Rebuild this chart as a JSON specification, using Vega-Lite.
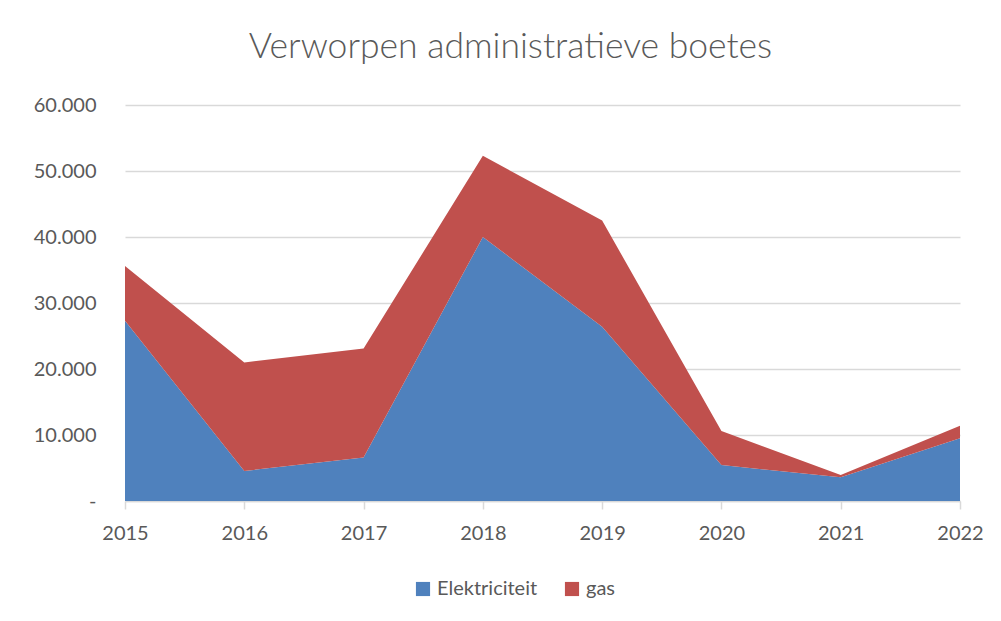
{
  "$schema": "https://vega.github.io/schema/vega-lite/v6.json",
  "autosize": {"type": "none"},
  "width": 835,
  "height": 396,
  "padding": {"left": 125, "top": 105, "right": 41, "bottom": 120},
  "background": "white",
  "title": {
    "text": "Verworpen administratieve boetes",
    "font": "Lato",
    "fontSize": 35.5,
    "fontWeight": 300,
    "color": "#595959",
    "anchor": "middle",
    "frame": "group",
    "baseline": "alphabetic",
    "offset": 44,
    "dy": 42,
    "dx": -32
  },
  "data": {
    "values": [
      {"jaar": "2015", "soort": "Elektriciteit", "k": 1, "waarde": 27300},
      {"jaar": "2016", "soort": "Elektriciteit", "k": 1, "waarde": 4550},
      {"jaar": "2017", "soort": "Elektriciteit", "k": 1, "waarde": 6600},
      {"jaar": "2018", "soort": "Elektriciteit", "k": 1, "waarde": 40000},
      {"jaar": "2019", "soort": "Elektriciteit", "k": 1, "waarde": 26400},
      {"jaar": "2020", "soort": "Elektriciteit", "k": 1, "waarde": 5450},
      {"jaar": "2021", "soort": "Elektriciteit", "k": 1, "waarde": 3600},
      {"jaar": "2022", "soort": "Elektriciteit", "k": 1, "waarde": 9500},
      {"jaar": "2015", "soort": "gas", "k": 2, "waarde": 8300},
      {"jaar": "2016", "soort": "gas", "k": 2, "waarde": 16450},
      {"jaar": "2017", "soort": "gas", "k": 2, "waarde": 16500},
      {"jaar": "2018", "soort": "gas", "k": 2, "waarde": 12300},
      {"jaar": "2019", "soort": "gas", "k": 2, "waarde": 16100},
      {"jaar": "2020", "soort": "gas", "k": 2, "waarde": 5150},
      {"jaar": "2021", "soort": "gas", "k": 2, "waarde": 340},
      {"jaar": "2022", "soort": "gas", "k": 2, "waarde": 1900}
    ]
  },
  "mark": {"type": "area", "interpolate": "linear", "opacity": 1},
  "encoding": {
    "x": {
      "field": "jaar",
      "type": "ordinal",
      "scale": {"type": "point", "padding": 0},
      "axis": {
        "title": null,
        "labelAngle": 0,
        "labelFont": "Lato",
        "labelFontSize": 20,
        "labelColor": "#595959",
        "labelPadding": 14,
        "ticks": true,
        "tickSize": 8,
        "tickColor": "#d9d9d9",
        "tickWidth": 1.5,
        "domain": true,
        "domainColor": "#d9d9d9",
        "domainWidth": 1.5,
        "grid": false
      }
    },
    "y": {
      "field": "waarde",
      "type": "quantitative",
      "stack": "zero",
      "scale": {"domain": [0, 60000], "nice": false},
      "axis": {
        "title": null,
        "values": [0, 10000, 20000, 30000, 40000, 50000, 60000],
        "labelExpr": "datum.value == 0 ? '-\u2007' : replace(format(datum.value, ',.0f'), ',', '.')",
        "labelFont": "Lato",
        "labelFontSize": 20,
        "labelColor": "#595959",
        "labelPadding": 29,
        "ticks": false,
        "domain": false,
        "grid": true,
        "gridColor": "#d9d9d9",
        "gridWidth": 1.5
      }
    },
    "color": {
      "field": "soort",
      "type": "nominal",
      "scale": {"domain": ["Elektriciteit", "gas"], "range": ["#4f81bd", "#c0504d"]},
      "legend": {
        "title": null,
        "orient": "none",
        "direction": "horizontal",
        "legendX": 288,
        "legendY": 474,
        "symbolType": "square",
        "symbolSize": 200,
        "symbolStrokeWidth": 0,
        "labelFont": "Lato",
        "labelFontSize": 20,
        "labelColor": "#595959",
        "columnPadding": 24,
        "symbolOffset": 0
      }
    },
    "order": {"field": "k", "type": "quantitative"}
  },
  "config": {"view": {"stroke": null}}
}
